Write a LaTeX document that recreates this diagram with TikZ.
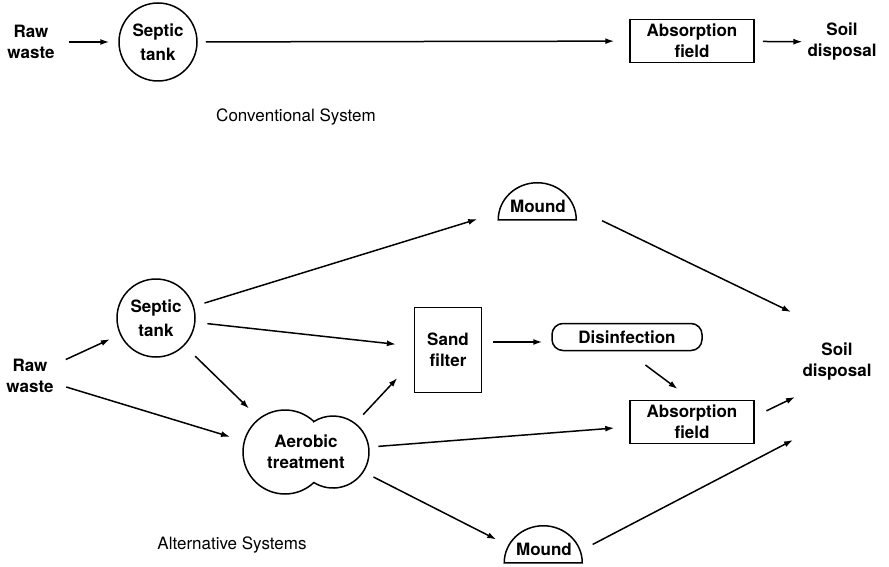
\documentclass[tikz,border=0pt]{standalone}
\usepackage{fontspec}
\setmainfont{TeX Gyre Heros}
\usetikzlibrary{arrows.meta,shapes.geometric}

\begin{document}
\begin{tikzpicture}[x=1pt,y=1pt,line width=1.5pt,
	>={Latex[length=9pt,width=6pt]},
	lbl/.style={font=\fontsize{17}{21}\selectfont\bfseries, align=center},
	tank/.style={lbl, circle, draw, minimum size=78pt, inner sep=0pt,
		font=\fontsize{17}{24}\selectfont\bfseries},
	box/.style={lbl, draw, minimum width=124pt, minimum height=43pt, inner sep=0pt},
	mound/.style={lbl, minimum width=78pt, minimum height=37pt, text height=24pt, inner sep=0pt},
	note/.style={font=\fontsize{17}{20}\selectfont}]
	 \useasboundingbox (0,0) rectangle (889,-567);

	 % conventional system
	 \node[lbl]  (raw1) at (31,-42)  {Raw\\waste};
	 \node[tank] (st1)  at (158,-42) {Septic\\tank};
	 \node[box]  (ab1)  at (692,-41) {Absorption\\field};
	 \node[lbl]  (so1)  at (842,-42) {Soil\\disposal};
	 \node[note] (conv) at (296,-117) {Conventional System};

	 \draw[->, shorten <=10pt, shorten >=9pt]  (raw1) to (st1);
	 \draw[->, shorten <=8pt,  shorten >=15pt] (st1)  to (ab1);
	 \draw[->, shorten <=8pt,  shorten >=1pt]  (ab1)  to (so1);

	 % alternative systems
	 \node[lbl]  (raw2) at (30,-376)  {Raw\\waste};
	 \node[tank] (st2)  at (156,-318) {Septic\\tank};
	 \node[mound] (md1) at (538,-200.5) {Mound};
	 \node[box, minimum width=67pt, minimum height=85pt] (sf) at (448,-350) {Sand\\filter};
	 \node[lbl, draw, rounded corners=11pt, minimum width=150pt, minimum height=27pt,
		inner sep=0pt] (dis) at (627,-337) {Disinfection};
	 \node[box]  (ab2)  at (692,-422) {Absorption\\field};
	 \node[lbl, ellipse, minimum width=126pt, minimum height=84pt, inner sep=0pt]
		(aer) at (306,-452) {Aerobic\\treatment};
	 \node[mound] (md2) at (544,-543.5) {Mound};
	 \node[lbl]  (so2)  at (837,-362) {Soil\\disposal};
	 \node[note] (alt)  at (232,-545) {Alternative Systems};

	 \draw (md1.south west) arc[start angle=180, end angle=0, x radius=39pt, y radius=37pt] -- cycle;
	 \draw (md2.south west) arc[start angle=180, end angle=0, x radius=39pt, y radius=37pt] -- cycle;
	 \coordinate (aerL) at ([xshift=-21pt]aer.center);
	 \draw ([shift={(46.6:42pt)}]aerL) arc[start angle=46.6, end angle=313.4, radius=42pt]
		arc[start angle=-122.1, end angle=122.1, radius=36pt] -- cycle;

	 \coordinate (in1) at ([shift={(-46pt,50pt)}]so2.center);
	 \coordinate (in2) at ([shift={(-42pt,-35pt)}]so2.center);
	 \coordinate (in3) at ([shift={(-44pt,-78pt)}]so2.center);

	 \draw[->, shorten <=9pt,  shorten >=11pt] (raw2) to (st2);
	 \draw[->, shorten <=9pt,  shorten >=15pt] (raw2) to (aer.170);
	 \draw[->, shorten <=15pt, shorten >=18pt] (st2)  to (aer.145);
	 \draw[->, shorten <=11pt, shorten >=22pt] (st2)  to (md1);
	 \draw[->, shorten <=12pt, shorten >=18pt] (st2)  to (sf);
	 \draw[->, shorten <=13pt, shorten >=24pt] (aer.30) to (sf.197);
	 \draw[->, shorten <=9pt,  shorten >=15pt] (aer)  to (ab2);
	 \draw[->, shorten <=12pt, shorten >=9pt]  (aer.-19) to (md2.west);
	 \draw[->, shorten <=11pt, shorten >=9pt]  ([yshift=-5pt]dis.west -| sf.east) to ([yshift=-5pt]dis.west);
	 \draw[->, shorten <=23pt, shorten >=18pt] (dis.south) to (ab2.north);
	 \draw[->, shorten <=27pt] (md1.-12) to (in1);
	 \draw[->, shorten <=13pt] (ab2.5)   to (in2);
	 \draw[->, shorten <=10pt] (md2.-8)  to (in3);
	\end{tikzpicture}
\end{document}
